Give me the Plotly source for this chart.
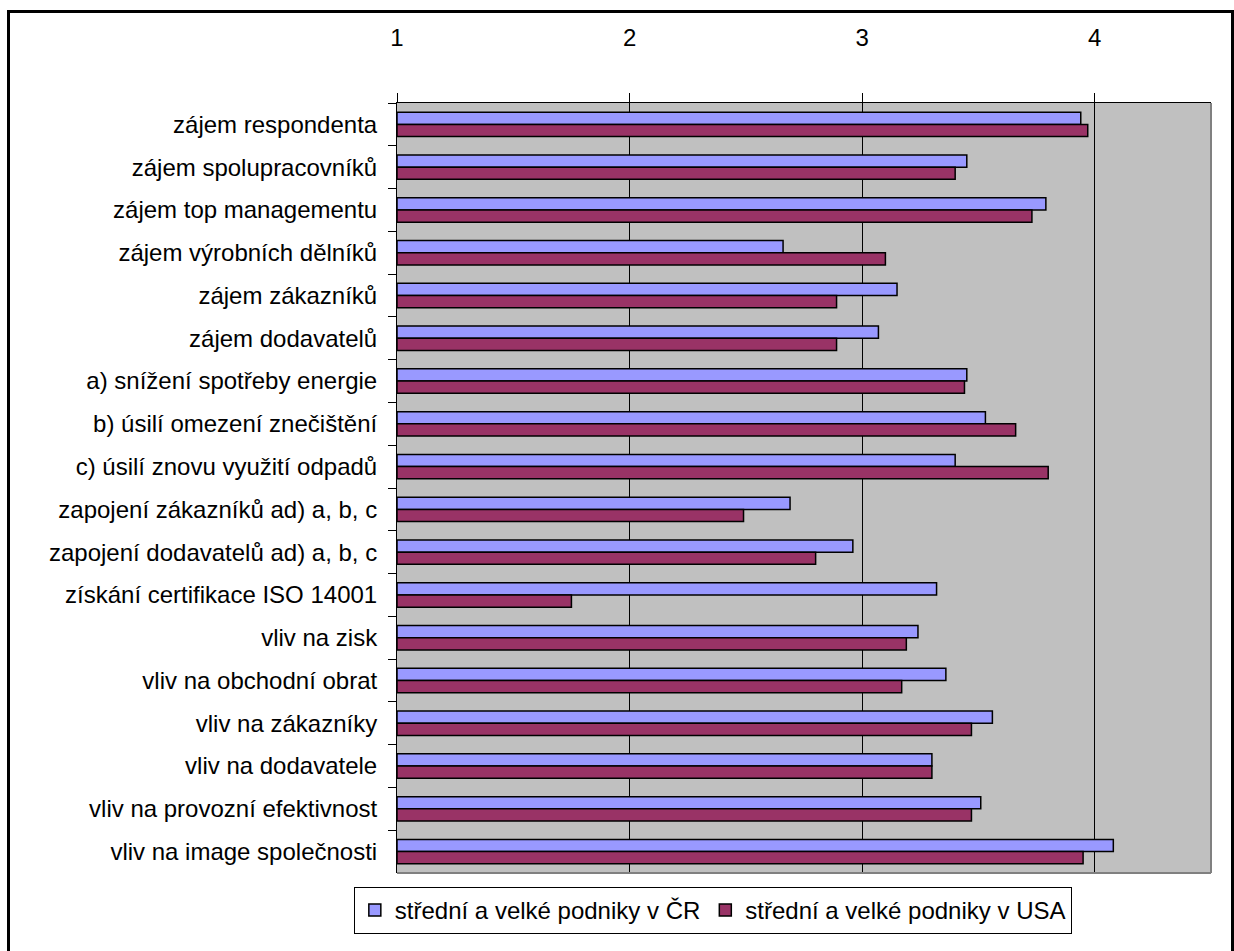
import plotly.graph_objects as go

# Survey items (top to bottom)
categories = [
    "zájem respondenta",
    "zájem spolupracovníků",
    "zájem top managementu",
    "zájem výrobních dělníků",
    "zájem zákazníků",
    "zájem dodavatelů",
    "a) snížení spotřeby energie",
    "b) úsilí omezení znečištění",
    "c) úsilí znovu využití odpadů",
    "zapojení zákazníků ad) a, b, c",
    "zapojení dodavatelů ad) a, b, c",
    "získání certifikace ISO 14001",
    "vliv na zisk",
    "vliv na obchodní obrat",
    "vliv na zákazníky",
    "vliv na dodavatele",
    "vliv na provozní efektivnost",
    "vliv na image společnosti",
]

# Mean scores on the 1–4 scale
cz_values = [3.94, 3.45, 3.79, 2.66, 3.15, 3.07, 3.45, 3.53, 3.40,
             2.69, 2.96, 3.32, 3.24, 3.36, 3.56, 3.30, 3.51, 4.08]
usa_values = [3.97, 3.40, 3.73, 3.10, 2.89, 2.89, 3.44, 3.66, 3.80,
              2.49, 2.80, 1.75, 3.19, 3.17, 3.47, 3.30, 3.47, 3.95]

series_names = ["střední a velké podniky v ČR", "střední a velké podniky v USA"]
tick_values = [1, 2, 3, 4]

AXIS_MIN, AXIS_MAX = 1, 4.5
FONT = "Liberation Sans, Arial, sans-serif"

fig = go.Figure()
for name, vals, color in [
    (series_names[0], cz_values, "#9999FF"),
    (series_names[1], usa_values, "#993366"),
]:
    fig.add_trace(go.Bar(
        y=categories,
        x=[v - AXIS_MIN for v in vals],
        base=AXIS_MIN,
        orientation="h",
        name=name,
        marker=dict(color=color, line=dict(color="black", width=1.5)),
        customdata=vals,
        hovertemplate="%{y}: %{customdata}<extra>" + name + "</extra>",
    ))

W, H = 1234, 951
ML, MR, MT, MB = 397, 23, 103, 78
pw, ph = W - ML - MR, H - MT - MB


def px_x(p):
    return (p - ML) / pw


def px_y(p):
    return (H - MB - p) / ph


fig.update_layout(
    width=W, height=H,
    margin=dict(l=ML, r=MR, t=MT, b=MB, pad=0),
    paper_bgcolor="white",
    plot_bgcolor="#C0C0C0",
    barmode="group",
    bargap=0.43,
    bargroupgap=0,
    font=dict(family=FONT, size=24, color="black"),
    showlegend=True,
    legend=dict(
        orientation="h",
        x=0.388, xanchor="center",
        y=px_y(887), yanchor="top",
        bgcolor="white",
        bordercolor="black",
        borderwidth=1,
        font=dict(family=FONT, size=24, color="black"),
        itemwidth=30,
        traceorder="normal",
    ),
    xaxis=dict(
        range=[AXIS_MIN, AXIS_MAX],
        side="top",
        tickvals=tick_values,
        ticktext=[str(t) for t in tick_values],
        ticks="outside", ticklen=9, tickcolor="black", tickwidth=1,
        showline=True, linecolor="black", linewidth=1,
        showgrid=True, gridcolor="black", gridwidth=1,
        zeroline=False,
        ticklabelstandoff=37,
        tickfont=dict(family=FONT, size=24, color="black"),
        fixedrange=True,
    ),
    yaxis=dict(
        autorange="reversed",
        ticks="outside", ticklen=8, tickcolor="black", tickwidth=1,
        tickson="boundaries",
        showline=True, linecolor="black", linewidth=1,
        showgrid=False,
        ticklabelstandoff=14,
        tickfont=dict(family=FONT, size=24, color="black"),
        fixedrange=True,
    ),
    shapes=[
        # right and bottom edges of the plot area
        dict(type="line", xref="paper", yref="paper", x0=1, x1=1, y0=0, y1=1,
             line=dict(color="#808080", width=2)),
        dict(type="line", xref="paper", yref="paper", x0=0, x1=1, y0=0, y1=0,
             line=dict(color="#808080", width=2)),
        # outer chart frame
        dict(type="rect", xref="paper", yref="paper",
             x0=px_x(8.5), x1=px_x(1232.5), y0=px_y(975), y1=px_y(11.5),
             line=dict(color="black", width=3), fillcolor="rgba(0,0,0,0)",
             layer="below"),
    ],
)

fig.write_html("out.html")
